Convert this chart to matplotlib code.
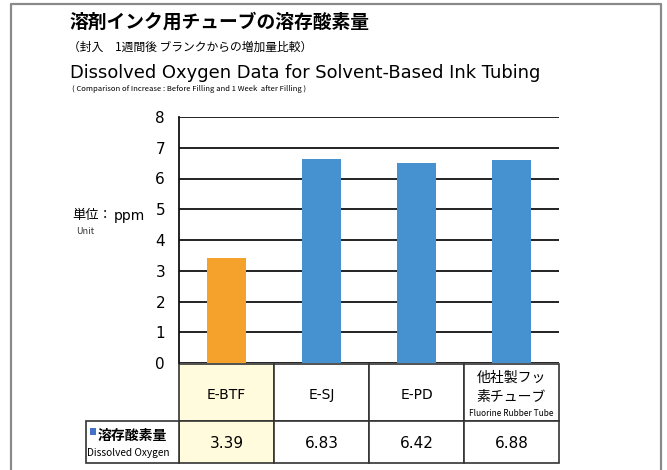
import matplotlib
matplotlib.use("Agg")
import matplotlib.pyplot as plt
from matplotlib.patches import Rectangle

plt.rcParams['font.family'] = ['Noto Sans CJK JP', 'DejaVu Sans']
LAT = ['DejaVu Sans']

# -----------------------------
# DADOS
# -----------------------------
categorias = ["E-BTF", "E-SJ", "E-PD", "他社製フッ\n素チューブ"]
alturas = [3.43, 6.65, 6.50, 6.61]          # altura das barras
valores_tabela = ["3.39", "6.83", "6.42", "6.88"]
cores = ["#F4A22C", "#4692D1", "#4692D1", "#4692D1"]
yticks = [0, 1, 2, 3, 4, 5, 6, 7, 8]

W, H = 667, 470
fig = plt.figure(figsize=(W / 100, H / 100), dpi=100)

# camada de fundo em pixels (textos, moldura, tabela)
ov = fig.add_axes([0, 0, 1, 1])
ov.set_xlim(0, W)
ov.set_ylim(H, 0)
ov.axis("off")

# moldura cinza
ov.plot([11, 11, 661, 661], [H + 5, 4, 4, H + 5], color="#8a8a8a", lw=1.6)

# titulos
ov.text(70, 22, "溶剤インク用チューブの溶存酸素量", fontsize=13.5, fontweight="bold",
        va="center", ha="left")
ov.text(68, 47, "（封入　1週間後 ブランクからの増加量比較）", fontsize=8.5,
        va="center", ha="left")
ov.text(70, 73, "Dissolved Oxygen Data for Solvent-Based Ink Tubing", fontsize=12.9,
        va="center", ha="left", family=LAT)
ov.text(72, 89, "( Comparison of Increase : Before Filling and 1 Week  after Filling )",
        fontsize=5.5, va="center", ha="left")

# unidade
ov.text(72, 216, "単位：", fontsize=9.5, va="center", ha="left")
ov.text(114, 216, "ppm", fontsize=10, va="center", ha="left", family=LAT)
ov.text(76, 231, "Unit", fontsize=6.5, va="center", ha="left", color="#333333")

# -----------------------------
# GRÁFICO DE BARRAS
# -----------------------------
x0, x1 = 179, 559
y_top, y_zero = 117, 363
ax = fig.add_axes([x0 / W, (H - y_zero) / H, (x1 - x0) / W, (y_zero - y_top) / H])
ax.patch.set_alpha(0)
pos = range(len(categorias))
ax.bar(pos, alturas, width=0.41, color=cores, zorder=3)
ax.set_xlim(-0.5, len(categorias) - 0.5)
ax.set_ylim(0, 8)
ax.set_yticks(yticks)
ax.set_yticklabels([str(v) for v in yticks], fontsize=11, family=LAT)
ax.tick_params(axis="y", length=0, pad=10)
ax.set_xticks([])
ax.grid(axis="y", color="#111111", lw=1.3, zorder=1)
for s in ["top", "right", "bottom"]:
    ax.spines[s].set_visible(False)
ax.spines["left"].set_linewidth(1.3)
ax.spines["left"].set_color("#111111")

# -----------------------------
# TABELA
# -----------------------------
col_w = (x1 - x0) / len(categorias)
r0, r1, r2 = 364, 421, 463
lc = "#333333"
for i, (cat, val) in enumerate(zip(categorias, valores_tabela)):
    cx = x0 + i * col_w
    fc = "#FFFBDC" if i == 0 else "white"
    ov.add_patch(Rectangle((cx, r0), col_w, r1 - r0, facecolor=fc, edgecolor=lc, lw=1.2))
    ov.add_patch(Rectangle((cx, r1), col_w, r2 - r1, facecolor=fc, edgecolor=lc, lw=1.2))
    mid = cx + col_w / 2
    if "\n" in cat:
        l1, l2 = cat.split("\n")
        ov.text(mid, 378, l1, fontsize=10, ha="center", va="center")
        ov.text(mid, 397, l2, fontsize=10, ha="center", va="center")
        ov.text(mid, 413, "Fluorine Rubber Tube", fontsize=6, ha="center",
                va="center")
    else:
        ov.text(mid, 395, cat, fontsize=10, ha="center", va="center", family=LAT)
    ov.text(mid, 443, val, fontsize=11, ha="center", va="center", family=LAT)

# cabeçalho da linha
ov.add_patch(Rectangle((86, r1), x0 - 86, r2 - r1, facecolor="white", edgecolor=lc, lw=1.2))
ov.add_patch(Rectangle((90, 428), 6, 7, facecolor="#4472C4", edgecolor="none"))
ov.text(98, 436, "溶存酸素量", fontsize=10, fontweight="bold", ha="left", va="center")
ov.text(87, 453, "Dissolved Oxygen", fontsize=7.3, ha="left", va="center")

fig.savefig("out.png", dpi=100)
